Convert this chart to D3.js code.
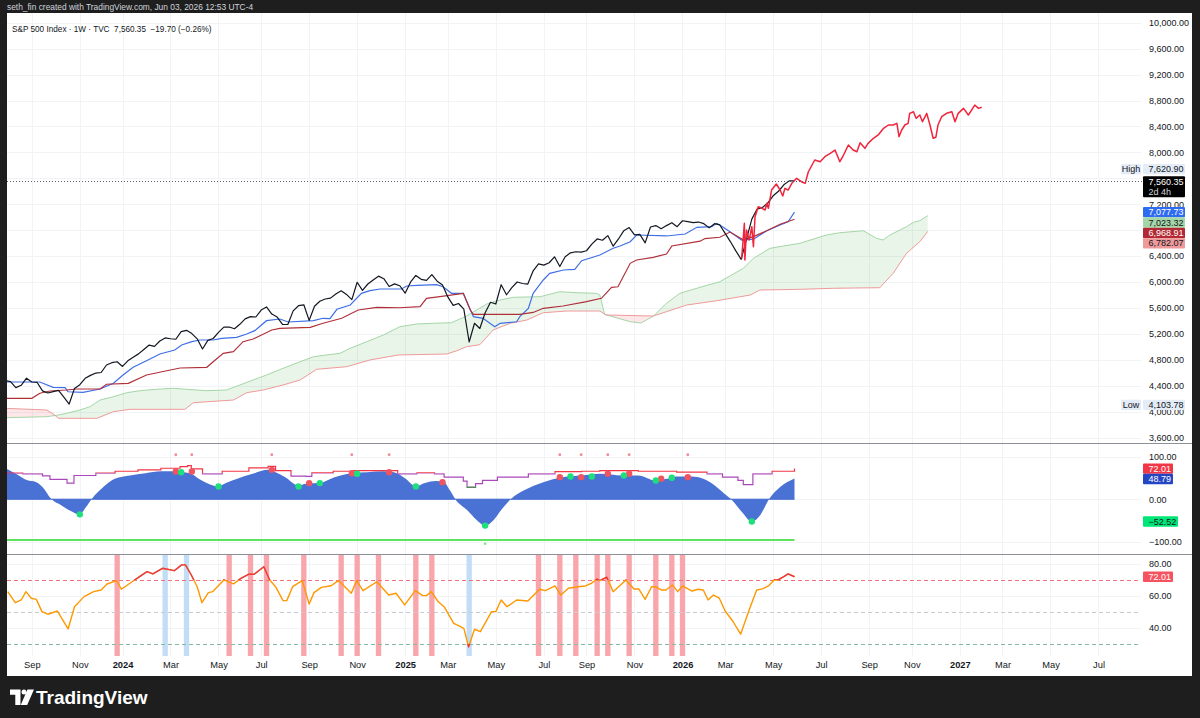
<!DOCTYPE html>
<html><head><meta charset="utf-8">
<script src="https://cdn.jsdelivr.net/npm/d3@7"></script>
<style>
html,body{margin:0;padding:0;background:#1e1e1e;overflow:hidden}
svg{display:block}
text{font-family:"Liberation Sans",Arial,sans-serif}
</style></head><body>
<svg id="chart" width="1200" height="718"></svg>
<script>
// ---------------- DATA ----------------
const firstBar = "2023-07-31"; // weekly bars (Mondays), index 0
const closes = [4478,4464,4370,4406,4516,4457,4450,4320,4288,4309,
4327,4224,4117,4358,4415,4514,4559,4595,4604,4719,
4755,4770,4697,4784,4840,4891,4959,5027,5006,5089,
5137,5124,5117,5234,5254,5204,5123,4967,5100,5128,
5223,5303,5305,5278,5347,5431,5465,5460,5567,5615,
5505,5459,5347,5344,5554,5634,5648,5408,5626,5703,
5738,5751,5815,5865,5808,5729,5996,5870,5969,6032,
6090,6051,5931,5971,5942,5827,5997,6101,6041,6026,
6115,6013,5955,5770,5639,5668,5581,5074,5363,5283,
5525,5687,5660,5958,5803,5912,6000,5977,5968,6173,
6279,6260,6297,6389,6238,6389,6450,6467,6460,6482,
6584,6664,6644,6716,6553,6664,6792,6840,6728,6734,
6603,6849,6870,6822,6870,6915,6853,6945,6930,6915,
6925,6900,6835,6900,6880,6750,6620,6480,6350,6660,
6970,7125,7150,7220,7330,7400,7500,7560,7560];
// [bar index, value]
const tenkan = [[0,4457],[6.5,4457],[9,4375],[11.2,4369],[11.8,4307],[14.6,4298],[17.8,4349],[20.3,4437],[22.1,4565],[24,4684],[26.5,4786],[29,4889],[31.8,4951],[33.1,5028],[35,5079],[36.5,5105],[39,5105],[40.6,5131],[43.4,5147],[45.3,5198],[46.8,5249],[49,5403],[51.5,5429],[53.1,5383],[57.8,5403],[59.6,5440],[60.9,5434],[62.2,5579],[64.7,5645],[66.8,5825],[68.4,5866],[70.3,5892],[74.3,5892],[75.3,5938],[77.2,5949],[80.9,5958],[82.1,5927],[83.7,5825],[85.9,5825],[87.8,5465],[89.6,5440],[91.8,5310],[92.8,5363],[95.9,5387],[96.5,5465],[98.1,5594],[99,5825],[100.9,6031],[102.1,6134],[104.7,6185],[106.8,6195],[108.1,6328],[111.5,6416],[114,6520],[115.3,6555],[117.2,6622],[118.4,6725],[124,6710],[127.5,6740],[129.7,6844],[132.5,6853],[133.4,6905],[134,6879],[135.9,6776],[138.1,6647],[140.3,6660],[142.8,6790],[145.3,6880],[146.8,6930],[148,7077.73]];
const kijun = [[0,4206],[5,4206],[6.5,4283],[8.4,4318],[11.5,4334],[13.4,4349],[17.8,4349],[19,4422],[23.1,4437],[26.5,4565],[30.3,4631],[32.8,4673],[37.8,4684],[39,4770],[40.9,4900],[42.8,4925],[44.6,5079],[46.5,5120],[50,5259],[51.5,5285],[57.2,5301],[59.6,5363],[63.1,5440],[66.2,5568],[69.7,5609],[74,5603],[77.8,5619],[79,5748],[81.5,5773],[85.9,5825],[87.2,5568],[87.8,5500],[96.5,5500],[99,5530],[100.9,5594],[104.6,5630],[109,5696],[111.8,5748],[113.7,5918],[114.9,5927],[117.2,6288],[118.4,6339],[121.5,6381],[124,6432],[125,6555],[130.3,6630],[131.2,6670],[134,6690],[135.9,6770],[138.4,6650],[140.3,6700],[142.8,6790],[145.3,6890],[148,6968.91]];
const spanA = [[0,3906],[7.8,3922],[10,3948],[11.5,3974],[14,4025],[15.9,4076],[17.8,4179],[20.3,4230],[22.8,4292],[25.3,4323],[28.4,4345],[31.5,4360],[34,4345],[37.8,4323],[41.5,4334],[44,4411],[46.5,4488],[49,4565],[52.1,4668],[55.3,4770],[57.8,4847],[60.3,4874],[62.8,4900],[64.7,4977],[67.8,5079],[70.9,5182],[74,5310],[77.2,5352],[80.3,5363],[83.7,5372],[86.5,5475],[88.4,5568],[90.3,5660],[92.2,5711],[95.3,5764],[100.3,5773],[104,5850],[107.2,5835],[110.9,5825],[111.5,5799],[112.4,5500],[117.2,5387],[119.2,5367],[121.5,5470],[124,5671],[126.5,5825],[130.3,5918],[134,6004],[138.4,6211],[140.3,6365],[143.4,6520],[149,6597],[154,6725],[156.5,6760],[160.9,6791],[163.4,6674],[164.6,6648],[165.9,6725],[169,6853],[170.3,6921],[171.5,6946],[173,7023.32]];
const spanB = [[0,4051],[7.8,4025],[9,3965],[10,3897],[17.2,3897],[20.3,3999],[23.4,4036],[33.7,4036],[35.3,4138],[42.8,4179],[45.3,4292],[48.4,4334],[52.1,4411],[55.3,4488],[58.4,4653],[64,4693],[68.4,4797],[73.7,4874],[82.8,4889],[84.7,4940],[86.5,5002],[89,5033],[91.5,5260],[94.7,5363],[97.8,5413],[100.9,5526],[105.3,5552],[111.5,5552],[112.7,5491],[121.5,5475],[124,5542],[127.8,5645],[133.4,5711],[139.7,5799],[141.5,5876],[149,5887],[155.3,5903],[164,5912],[166.5,6134],[169,6442],[171.5,6622],[173,6782.07]];
const projection = [[138.1,6365],[138.6,6905],[138.7,6339],[139.0,6802],[139.5,6648],[140.0,6853],[140.3,6544],[140.6,7007],[141.2,7161],[141.9,7137],[142.5,7111],[142.8,7214],[143.1,7137],[143.7,7419],[144.6,7512],[145.3,7419],[145.8,7327],[146.2,7445],[146.8,7419],[147.5,7522],[148.4,7600],[149.3,7547],[150.0,7522],[150.6,7701],[151.8,7882],[152.8,7856],[153.7,7933],[154.7,7985],[155.6,8036],[156.5,7856],[157.2,7959],[158.1,8113],[159.0,8036],[159.7,8010],[160.3,8149],[161.2,8062],[161.8,8139],[162.8,8217],[163.7,8268],[164.7,8371],[165.6,8422],[166.5,8422],[167.2,8448],[167.6,8241],[168.1,8345],[168.7,8422],[169.3,8448],[169.6,8602],[170.3,8627],[170.8,8525],[171.5,8576],[172.0,8473],[172.8,8602],[173.4,8422],[174.0,8217],[174.5,8232],[174.9,8422],[175.6,8550],[176.5,8602],[177.5,8627],[178.1,8473],[178.7,8602],[179.7,8679],[180.6,8576],[181.2,8653],[181.8,8730],[182.5,8679],[183.1,8695]];
const lastPrice = 7560.35, priceChange = -19.70, priceChangePct = -0.26;
const highPrice = 7620.90, lowPrice = 4103.78;
const countdown = "2d 4h";

// oscillator pane
const oscArea = [[0.3,71.4],[2.25,58],[4.05,45],[5.85,40],[6.9,30],[8.7,0],[10.5,-14],[12.3,-27.9],[13.9,-35.6],[15.2,-17.9],[16.2,0],[18.4,28.6],[20.55,48.1],[23.4,55.8],[26.3,61.2],[29.2,65.8],[32,65.8],[33.5,63.5],[34.9,59.8],[36.3,48.1],[38.1,36.5],[39.9,30.2],[41.4,37.9],[43.5,48.1],[46.4,59.8],[49.3,69.1],[50.7,63.5],[52.5,51.9],[55,32.6],[56.4,36.5],[59,37.9],[61.5,50.5],[65,61.2],[67.9,63.5],[70.8,65.8],[72.9,63.5],[75.1,48.1],[77,30.2],[78.7,37.9],[80.8,42.6],[82.3,40.2],[83.4,20.9],[84.4,0],[86.6,-25.6],[88.4,-48.8],[90,-62.1],[91.6,-48.8],[93,-25.6],[94.8,0],[97.3,20.9],[100.9,40.2],[104.5,51.9],[108.1,55.8],[111.5,59.8],[115.8,55.8],[118.7,55.8],[121.9,44.2],[124.1,48.1],[125.9,53.5],[128.7,53.5],[130.9,48.1],[133,32.6],[134.8,13.3],[136.3,-2.3],[138.1,-29.5],[140,-52.52],[141.6,-37.2],[143.1,-2.3],[145.3,28.6],[148,48.79]];
const oscStep = [[0.3,61.5],[2.5,61.5],[3.3,59.8],[5.5,59.8],[7,55],[8.4,46.5],[11.2,46.5],[11.6,37.9],[12.7,37.9],[12.9,55.8],[14.8,55.8],[17,61.5],[20.6,65.8],[24.9,69.1],[29.2,72.8],[32.8,76.7],[34.2,79.1],[34.9,71.4],[37,59.8],[40.7,65.8],[45.7,73.7],[49.3,77.4],[50.7,67.4],[53.6,54.2],[56.4,53.5],[57.5,62.1],[61.5,65.8],[65,67.4],[71.5,67.4],[73.6,59.8],[77.2,62.1],[80.5,59.8],[82.3,51.9],[85.9,42.6],[86.6,28.6],[87.8,28.6],[88.2,36.5],[89.5,44.2],[92.3,51.9],[98.1,59.8],[103.1,65.1],[108.1,65.8],[111.5,67.4],[118.7,65.8],[125.9,63.5],[131.6,59.8],[134.5,51.9],[137.4,44.2],[138.4,34.2],[140.2,59.8],[143.8,65.8],[148,72.01]];
const oscRedDots = [[32,65.1],[35,65.1],[50,69.1],[57,37.9],[65,61.2],[72,63.5],[82,40.2],[104,51.9],[108,51.9],[113,59.8],[117,59.8],[123,48.1],[128,51.9]];
const oscGreenDots = [[14,-35.6],[33,63.5],[40,30.2],[55,30.2],[59,37.9],[66,59.8],[77,30.2],[90,-62.1],[106,53.5],[110,53.5],[116,55.8],[122,44.2],[125,50.5],[140,-52.52]];
const oscTopMarks = [32,35,50,65,72,104,108,113,117,128];
const oscBottomMarks = [90];
const oscFloor = -96;
const oscTicks = [100, 0, -100];

// RSI pane
const rsi = [[0.47,62.7],[1.9,55.8],[3.0,57.5],[3.9,62.7],[4.9,58.6],[5.85,57.9],[6.9,50.2],[8.0,48.6],[9.8,50.6],[11.8,39.4],[13.0,53.3],[14.8,59.6],[16.6,62.7],[18.0,63.75],[19.1,67.5],[20.9,69.6],[21.8,64.2],[23.8,68.9],[25.2,72.1],[26.6,75.2],[27.7,73.75],[29.5,77.3],[31.7,75.8],[33.1,79.4],[33.8,79.4],[34.9,73.1],[36.0,65.8],[36.9,55.8],[38.1,62.1],[38.9,62.7],[41.0,70],[42.8,67.5],[44.2,71],[45.7,73.6],[46.7,73.6],[48.5,78.3],[49.6,70],[50.7,65.8],[52.1,57.1],[52.8,57.1],[53.9,65.8],[55.7,69.6],[57.0,55],[57.9,62.1],[59.3,65.4],[61.1,66.4],[62.5,69.6],[64.9,61.7],[65.9,69.6],[67.1,63.3],[69.7,68.9],[71.9,60.6],[73.3,61.7],[74.9,54.4],[76.9,63.3],[78.3,60.2],[79.0,60.2],[79.9,62.7],[81.2,56.4],[82.3,53.3],[84.1,42.9],[85.1,41.25],[86.0,39.8],[86.9,28.3],[88.0,39.2],[89.1,37.7],[91.2,50.2],[92.0,50.2],[93.0,57.5],[94.1,53.3],[95.9,57.5],[98.0,56.9],[100.2,64.2],[101.3,63.3],[103.1,66.25],[104.2,60.6],[105.6,64.8],[107.4,65.8],[108.8,66.25],[109.9,67.9],[111.0,70.6],[111.5,69.6],[112.8,71.7],[114.0,62.7],[116.4,70],[117.9,64.4],[118.8,64.4],[120.0,57.9],[121.2,65.8],[121.9,65.8],[123.0,63.75],[123.9,63.75],[125.1,66.9],[126.1,62.7],[127.0,66.25],[128.8,63.1],[129.9,64.2],[130.9,63.75],[131.8,57.5],[132.8,60.6],[133.9,58.6],[135.0,50.6],[136.5,43.9],[137.9,36.1],[139.5,51.25],[140.9,63.75],[142.0,64.4],[143.1,66.25],[144.2,70],[144.9,70],[146.0,72.1],[146.8,73.75],[148,72.01]];
const rsiRedBands = [21,42,46,49,56,63,66,70,77,80,100,104,107,111,113,117,122,125,127];
const rsiBlueBands = [30,34,87];
const rsiLevels = [70, 50, 30];
const rsiTicks = [80, 60, 40];

// axes
const priceTicks = [3600,4000,4400,4800,5200,5600,6000,6400,6800,7200,7600,8000,8400,8800,9200,9600,10000];
const timeTicks = ["2023-09-04","2023-11-06","2024-01-01","2024-03-04","2024-05-06","2024-07-01","2024-09-02","2024-11-04","2025-01-06","2025-03-03","2025-05-05","2025-07-07","2025-09-01","2025-11-03","2026-01-05","2026-03-02","2026-05-04","2026-07-06","2026-09-07","2026-11-02","2027-01-04","2027-03-01","2027-05-03","2027-07-05"];

// ---------------- SCALES ----------------
const DAY = 864e5;
const t0 = Date.parse(firstBar + "T00:00:00Z");
const barDate = i => new Date(t0 + i * 7 * DAY);
const anchor = Date.UTC(2024, 0, 1);
const pxDay = 5.3333 / 7;
const L = 7, R = 1141;
const x = d3.scaleUtc()
  .domain([new Date(anchor - (122.5 - L) / pxDay * DAY), new Date(anchor + (R - 122.5) / pxDay * DAY)])
  .range([L, R]);
const xb = i => x(barDate(i));
const barW = x(barDate(1)) - x(barDate(0));

const P = {main:[13,443], osc:[444,554], rsi:[555,656]};
const yMain = d3.scaleLinear().domain([3516, 10150]).range([443, 13]);
const yOsc = d3.scaleLinear().domain([-128.9, 129.9]).range([554, 444]);
const yRsi = d3.scaleLinear().domain([22.5, 85.6]).range([656, 555]);

// ---------------- DRAW ----------------
const svg = d3.select("#chart");
svg.append("rect").attr("width",1200).attr("height",718).attr("fill","#1e1e1e");
svg.append("rect").attr("x",7).attr("y",13).attr("width",1185).attr("height",663).attr("fill","#ffffff");

svg.append("text").attr("x",7).attr("y",7.5).attr("dy","0.35em").attr("fill","#d1d4dc")
  .attr("font-size",8.4).text("seth_fin created with TradingView.com, Jun 03, 2026 12:53 UTC-4");

const defs = svg.append("defs");
function clipRect(id, x0, y0, w, h){
  defs.append("clipPath").attr("id", id).append("rect").attr("x",x0).attr("y",y0).attr("width",w).attr("height",h);
}
clipRect("cMain", L, P.main[0], R-L, P.main[1]-P.main[0]);
clipRect("cOsc", L, P.osc[0], R-L, P.osc[1]-P.osc[0]);
clipRect("cRsi", L, P.rsi[0], R-L, P.rsi[1]-P.rsi[0]);

// grid
const grid = svg.append("g").attr("stroke","#f1f3f6").attr("stroke-width",1);
const tickDates = timeTicks.map(s => new Date(s + "T00:00:00Z"));
tickDates.forEach(d => {
  const xx = Math.round(x(d)) + 0.5;
  grid.append("line").attr("x1",xx).attr("x2",xx).attr("y1",13).attr("y2",656);
});
priceTicks.forEach(v => { const yy = Math.round(yMain(v))+0.5;
  grid.append("line").attr("x1",L).attr("x2",R).attr("y1",yy).attr("y2",yy); });
oscTicks.forEach(v => { const yy = Math.round(yOsc(v))+0.5;
  grid.append("line").attr("x1",L).attr("x2",R).attr("y1",yy).attr("y2",yy); });
rsiTicks.forEach(v => { const yy = Math.round(yRsi(v))+0.5;
  grid.append("line").attr("x1",L).attr("x2",R).attr("y1",yy).attr("y2",yy); });

// ===== main pane =====
const gm = svg.append("g").attr("clip-path","url(#cMain)");
const pA = spanA.map(d => [xb(d[0]), yMain(d[1])]);
const pB = spanB.map(d => [xb(d[0]), yMain(d[1])]);
const between = "M" + pA.join("L") + "L" + pB.slice().reverse().join("L") + "Z";
const bx0 = pB[0][0], bx1 = pB[pB.length-1][0];
defs.append("clipPath").attr("id","aboveB").append("path")
  .attr("d", "M" + pB.join("L") + `L${bx1},0L${bx0},0Z`);
defs.append("clipPath").attr("id","belowB").append("path")
  .attr("d", "M" + pB.join("L") + `L${bx1},800L${bx0},800Z`);
gm.append("g").attr("clip-path","url(#aboveB)").append("path").attr("d",between).attr("fill","rgba(76,175,80,0.13)");
gm.append("g").attr("clip-path","url(#belowB)").append("path").attr("d",between).attr("fill","rgba(242,54,69,0.12)");

const lineK = d3.line().x(d => xb(d[0])).y(d => yMain(d[1]));
gm.append("path").attr("d", lineK(spanA)).attr("fill","none").attr("stroke","#a5d6a7").attr("stroke-width",1);
gm.append("path").attr("d", lineK(spanB)).attr("fill","none").attr("stroke","#ef9a9a").attr("stroke-width",1);
gm.append("path").attr("d", lineK(tenkan)).attr("fill","none").attr("stroke","#3f6fe6").attr("stroke-width",1.2);
gm.append("path").attr("d", lineK(kijun)).attr("fill","none").attr("stroke","#b0303a").attr("stroke-width",1.2);
const lineC = d3.line().x((d,i) => xb(i)).y(d => yMain(d));
gm.append("path").attr("d", lineC(closes)).attr("fill","none").attr("stroke","#131722").attr("stroke-width",1.2).attr("stroke-linejoin","round");
gm.append("path").attr("d", lineK(projection)).attr("fill","none").attr("stroke","#f0243a").attr("stroke-width",1.5).attr("stroke-linejoin","round");

// last price dotted line
const yLast = Math.round(yMain(lastPrice)) + 0.5;
svg.append("line").attr("x1",L).attr("x2",1143).attr("y1",yLast).attr("y2",yLast)
  .attr("stroke","#5d606b").attr("stroke-width",1).attr("stroke-dasharray","1,2");

// legend
svg.append("text").attr("x",12).attr("y",29).attr("dy","0.35em").attr("font-size",8.2).attr("fill","#131722")
  .style("white-space","pre")
  .text(`S&P 500 Index · 1W · TVC  ${d3.format(",.2f")(lastPrice)}  −${Math.abs(priceChange).toFixed(2)} (−${Math.abs(priceChangePct).toFixed(2)}%)`);

// ===== oscillator pane =====
const go = svg.append("g").attr("clip-path","url(#cOsc)");
const areaO = d3.area().x(d => xb(d[0])).y0(yOsc(0)).y1(d => yOsc(d[1])).curve(d3.curveMonotoneX);
go.append("path").attr("d", areaO(oscArea)).attr("fill","#4a72d5");
go.append("line").attr("x1",xb(0)).attr("x2",xb(148)).attr("y1",yOsc(0)).attr("y2",yOsc(0)).attr("stroke","#3e66cc").attr("stroke-width",1);
const lineO = d3.line().x(d => xb(d[0])).y(d => yOsc(d[1])).curve(d3.curveStepAfter);
clipRect("oRed", L, 444, R-L, yOsc(61)-444);
clipRect("oPur", L, yOsc(61), R-L, yOsc(30)-yOsc(61));
clipRect("oGrn", L, yOsc(30), R-L, 554-yOsc(30));
[["oRed","#f23645"],["oPur","#ab47bc"],["oGrn","#1b5e20"]].forEach(([id,c]) => {
  go.append("path").attr("clip-path",`url(#${id})`).attr("d", lineO(oscStep)).attr("fill","none").attr("stroke",c).attr("stroke-width",1.2);
});
go.append("line").attr("x1",xb(0)).attr("x2",xb(148)).attr("y1",yOsc(oscFloor)).attr("y2",yOsc(oscFloor))
  .attr("stroke","#5fe35f").attr("stroke-width",2);
go.selectAll(".rd").data(oscRedDots).enter().append("circle").attr("cx",d=>xb(d[0])).attr("cy",d=>yOsc(d[1])).attr("r",3.2).attr("fill","#f05461");
go.selectAll(".gd").data(oscGreenDots).enter().append("circle").attr("cx",d=>xb(d[0])).attr("cy",d=>yOsc(d[1])).attr("r",3.2).attr("fill","#1de07d");
go.selectAll(".tm").data(oscTopMarks).enter().append("circle").attr("cx",d=>xb(d)).attr("cy",yOsc(104.6)).attr("r",1.4).attr("fill","#f28b93");
go.selectAll(".bm").data(oscBottomMarks).enter().append("circle").attr("cx",d=>xb(d)).attr("cy",yOsc(-104.7)).attr("r",1.3).attr("fill","#7ee87e");

// ===== RSI pane =====
const gr = svg.append("g").attr("clip-path","url(#cRsi)");
gr.selectAll(".rb").data(rsiRedBands).enter().append("rect").attr("x",d=>xb(d)-barW/2).attr("width",barW)
  .attr("y",P.rsi[0]).attr("height",P.rsi[1]-P.rsi[0]).attr("fill","#f8a6ab");
gr.selectAll(".bb").data(rsiBlueBands).enter().append("rect").attr("x",d=>xb(d)-barW/2).attr("width",barW)
  .attr("y",P.rsi[0]).attr("height",P.rsi[1]-P.rsi[0]).attr("fill","#c2def6");
const lvlColor = {70:"#f0707b", 50:"#c9cbd1", 30:"#86b9a0"};
rsiLevels.forEach(v => {
  const yy = Math.round(yRsi(v)) + 0.5;
  gr.append("line").attr("x1",L).attr("x2",R).attr("y1",yy).attr("y2",yy).attr("stroke",lvlColor[v])
    .attr("stroke-width",1).attr("stroke-dasharray","4,3");
});
const lineR = d3.line().x(d => xb(d[0])).y(d => yRsi(d[1]));
gr.append("path").attr("d", lineR(rsi)).attr("fill","none").attr("stroke","#ff9800").attr("stroke-width",1.4).attr("stroke-linejoin","round");
clipRect("rHi", L, 555, R-L, yRsi(70)-555);
clipRect("rLo", L, yRsi(30), R-L, 656-yRsi(30));
["rHi","rLo"].forEach(id => gr.append("path").attr("clip-path",`url(#${id})`).attr("d", lineR(rsi))
  .attr("fill","none").attr("stroke","#e8394b").attr("stroke-width",1.4).attr("stroke-linejoin","round"));

// ===== pane separators =====
[443.5, 554.5].forEach(yy => svg.append("line").attr("x1",7).attr("x2",1192).attr("y1",yy).attr("y2",yy)
  .attr("stroke","#8d9099").attr("stroke-width",1));

// ===== badge layout (computed before axis so covered labels are skipped) =====
const FS = 9;
const fmt2 = d3.format(",.2f");
const BX = 1143, BW = 42, BH = 10.4;
const lpTop = yMain(lastPrice) - 4.5, lpH = 21;
const hiBottom = Math.min(yMain(highPrice) + BH/2, lpTop - 2);
const hiTop = hiBottom - BH;
const below = [
  {v: tenkan[tenkan.length-1][1], fill:"#2f6bf0", tc:"#ffffff"},
  {v: spanA[spanA.length-1][1], fill:"#a5d6a7", tc:"#131722"},
  {v: kijun[kijun.length-1][1], fill:"#b22833", tc:"#ffffff"},
  {v: spanB[spanB.length-1][1], fill:"#ef9a9a", tc:"#131722"}
].sort((a,b) => b.v - a.v);
let prev = lpTop + lpH;
below.forEach(b => { b.top = Math.max(yMain(b.v) - BH/2, prev); prev = b.top + BH; });
const loTop = yMain(lowPrice) - BH/2;
const occupied = [[hiTop, hiTop+BH], [lpTop, lpTop+lpH], [loTop, loTop+BH]].concat(below.map(b => [b.top, b.top+BH]));
const visiblePriceTicks = priceTicks.filter(v => { const yy = yMain(v); return !occupied.some(([a,b]) => yy > a+1 && yy < b-1); });

// ===== axes =====
function styleAxis(g){
  g.select(".domain").remove();
  g.selectAll("text").attr("font-size",FS).attr("fill","#131722").attr("font-family",'"Liberation Sans",Arial,sans-serif');
}
svg.append("g").attr("transform","translate(1149,0)")
  .call(d3.axisRight(yMain).tickValues(visiblePriceTicks).tickFormat(fmt2).tickSize(0).tickPadding(0)).call(styleAxis);
svg.append("g").attr("transform","translate(1149,0)")
  .call(d3.axisRight(yOsc).tickValues(oscTicks).tickFormat(v => (v<0?"−":"") + d3.format(".2f")(Math.abs(v))).tickSize(0).tickPadding(0)).call(styleAxis);
svg.append("g").attr("transform","translate(1149,0)")
  .call(d3.axisRight(yRsi).tickValues(rsiTicks).tickFormat(d3.format(".2f")).tickSize(0).tickPadding(0)).call(styleAxis);
const fmtT = d => d.getUTCMonth() === 0 ? String(d.getUTCFullYear()) : d3.utcFormat("%b")(d);
const gx = svg.append("g").attr("transform","translate(0,662)")
  .call(d3.axisBottom(x).tickValues(tickDates).tickFormat(fmtT).tickSize(0).tickPadding(0)).call(styleAxis);
gx.selectAll("text").attr("dy","0.68em").attr("font-size",9.3).attr("font-weight", d => d.getUTCMonth()===0 ? "bold" : "normal");

// ===== badges =====
function badge(yTop, h, fill, txt, tc, w){
  svg.append("rect").attr("x",BX).attr("y",yTop).attr("width",w || BW).attr("height",h).attr("fill",fill).attr("rx",1);
  svg.append("text").attr("x",1148.5).attr("y",yTop + h/2).attr("dy","0.35em").attr("font-size",FS).attr("fill",tc).text(txt);
}
svg.append("rect").attr("x",BX).attr("y",lpTop).attr("width",BW).attr("height",lpH).attr("fill","#000000").attr("rx",1);
svg.append("text").attr("x",1148.5).attr("y",lpTop+5.6).attr("dy","0.35em").attr("font-size",FS).attr("fill","#ffffff").text(fmt2(lastPrice));
svg.append("text").attr("x",1148.5).attr("y",lpTop+15.2).attr("dy","0.35em").attr("font-size",FS).attr("fill","#d1d4dc").text(countdown);
svg.append("rect").attr("x",1121).attr("y",hiTop).attr("width",20).attr("height",BH).attr("fill","#e4ecf7");
svg.append("text").attr("x",1131).attr("y",hiTop+BH/2).attr("dy","0.35em").attr("text-anchor","middle").attr("font-size",FS).attr("fill","#131722").text("High");
badge(hiTop, BH, "#e4ecf7", fmt2(highPrice), "#131722");
below.forEach(b => badge(b.top, BH, b.fill, fmt2(b.v), b.tc));
svg.append("rect").attr("x",1121).attr("y",loTop).attr("width",20).attr("height",BH).attr("fill","#e4ecf7");
svg.append("text").attr("x",1131).attr("y",loTop+BH/2).attr("dy","0.35em").attr("text-anchor","middle").attr("font-size",FS).attr("fill","#131722").text("Low");
badge(loTop, BH, "#e4ecf7", fmt2(lowPrice), "#131722");
// oscillator badges
const oscBadges = [
  {v: oscStep[oscStep.length-1][1], fill:"#f23645", tc:"#ffffff"},
  {v: oscArea[oscArea.length-1][1], fill:"#2446c4", tc:"#ffffff"},
  {v: oscGreenDots[oscGreenDots.length-1][1], fill:"#00e676", tc:"#131722"}
];
let prevO = 0;
oscBadges.forEach(b => {
  const top = Math.max(yOsc(b.v) - BH/2, prevO);
  const txt = (b.v<0?"−":"") + d3.format(".2f")(Math.abs(b.v));
  badge(top, BH, b.fill, txt, b.tc, b.v < 0 ? 35 : 30);
  prevO = top + BH;
});
const rv = rsi[rsi.length-1][1];
badge(yRsi(rv) - BH/2, BH, "#f7525f", d3.format(".2f")(rv), "#ffffff", 30);

// ===== footer logo =====
const lg = svg.append("g").attr("fill","#ffffff");
lg.append("path").attr("d","M10,689.5 h10.5 v15.5 h-5.2 v-10.3 h-5.3 Z");
lg.append("circle").attr("cx",24).attr("cy",692).attr("r",2.5);
lg.append("path").attr("d","M27.5,689.5 h6.5 l-6.8,15.5 h-6.5 Z");
svg.append("text").attr("x",36).attr("y",697.5).attr("dy","0.35em").attr("font-size",19).attr("font-weight","bold")
  .attr("fill","#ffffff").text("TradingView");
</script>
</body></html>
